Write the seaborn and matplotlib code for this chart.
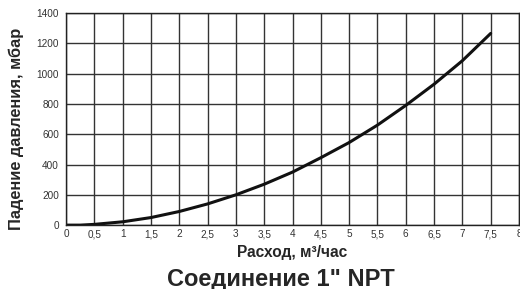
import numpy as np
import pandas as pd
import seaborn as sns
import matplotlib
matplotlib.use("Agg")
import matplotlib.pyplot as plt

# flow (m3/h) vs pressure drop (mbar)
flow = [0, 0.25, 0.5, 1, 1.5, 2, 2.5, 3, 3.5, 4, 4.5, 5, 5.5, 6, 6.5, 7, 7.5]
drop = [0, 0, 5, 22, 50, 90, 140, 200, 270, 350, 445, 545, 660, 790, 930, 1085, 1265]
x_ticks = [0, 0.5, 1, 1.5, 2, 2.5, 3, 3.5, 4, 4.5, 5, 5.5, 6, 6.5, 7, 7.5, 8]
y_ticks = [0, 200, 400, 600, 800, 1000, 1200, 1400]

df = pd.DataFrame({"flow": flow, "drop": drop})

sns.set_style("white")
plt.rcParams['font.family'] = ['Liberation Sans', 'DejaVu Sans']

fig = plt.figure(figsize=(5.2, 2.89), dpi=100)
ax = fig.add_axes([0.127, 0.221, 0.871, 0.734])

sns.lineplot(data=df, x="flow", y="drop", ax=ax, color="#111111", linewidth=2.2)

ax.set_xlim(0, 8)
ax.set_ylim(0, 1400)
ax.set_xticks(x_ticks)
ax.set_xticklabels([("%g" % t).replace(".", ",") for t in x_ticks])
ax.set_yticks(y_ticks)
ax.grid(True, color="#333333", linewidth=1.0)
ax.tick_params(axis="both", labelsize=7.2, colors="#333333", length=3, width=0.8, pad=2)
ax.tick_params(axis="x", length=0, pad=3)
for s in ax.spines.values():
    s.set_color("#222222")
    s.set_linewidth(1.0)

ax.set_xlabel("Расход, м³/час", fontsize=11.2, fontweight="bold", labelpad=4)
ax.set_ylabel("Падение давления, мбар", fontsize=11.8, fontweight="bold")
ax.yaxis.set_label_coords(-0.092, 0.455)
fig.text(0.54, 0.012, "Соединение 1\" NPT", ha="center", va="baseline",
         fontsize=17, fontweight="bold")

fig.savefig("out.png", dpi=100)
